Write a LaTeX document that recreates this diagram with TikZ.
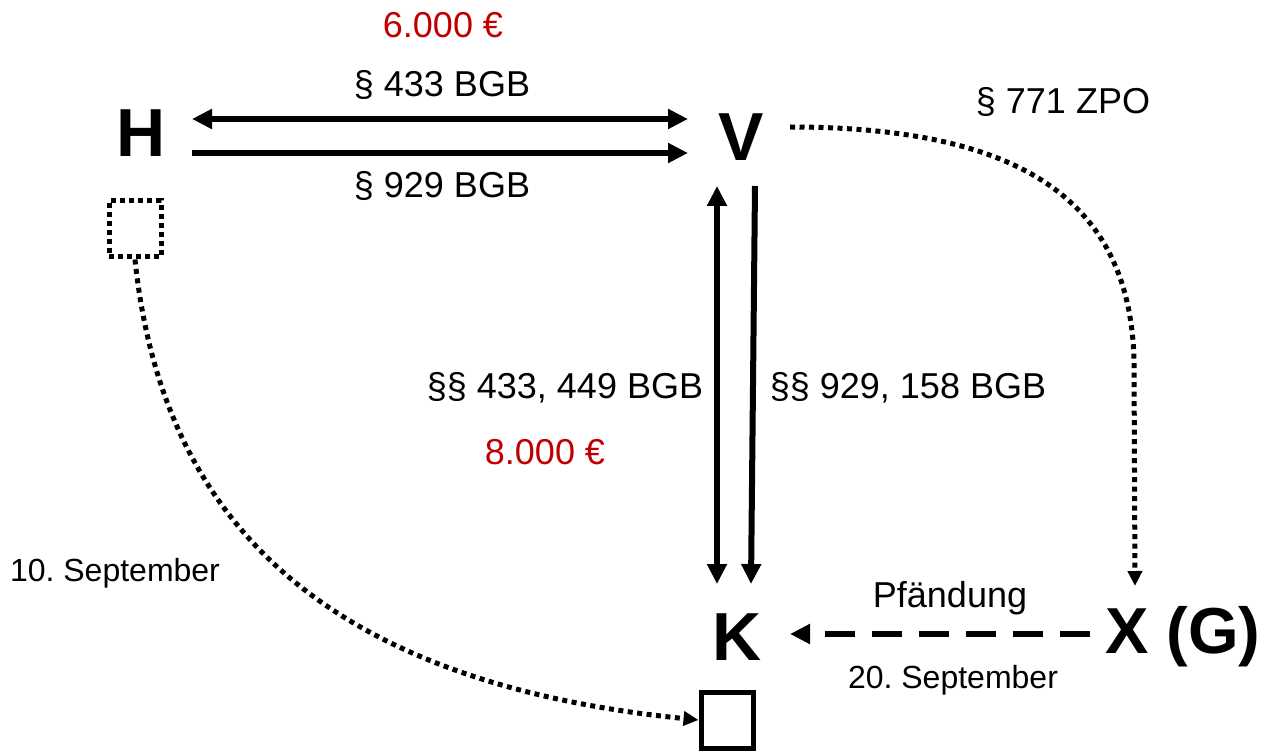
\documentclass[tikz,border=0pt]{standalone}
\usepackage{fontspec}
\setmainfont{Liberation Sans}
\usetikzlibrary{arrows.meta}
\definecolor{myred}{HTML}{C00000}
\frenchspacing
\tikzset{
  x=1pt,y=-1pt,
  big/.style={font=\fontsize{68}{80}\selectfont\bfseries, inner sep=0pt},
  lbl/.style={font=\fontsize{36}{42}\selectfont, inner sep=0pt},
  small/.style={font=\fontsize{32}{38}\selectfont, inner sep=0pt},
  red lbl/.style={lbl, text=myred},
  tip/.style={-{Triangle[length=20pt,width=19pt]}},
  bothtips/.style={{Triangle[length=20pt,width=19pt]}-{Triangle[length=20pt,width=19pt]}},
  thickline/.style={line width=6pt},
  dotline/.style={line width=5pt, dash pattern=on 5pt off 4.5pt},
  box/.style={minimum width=52pt, minimum height=56pt, inner sep=0pt},
}
\begin{document}
\begin{tikzpicture}
\useasboundingbox (0,0) rectangle (1272,754);
% main nodes
\node[big] (H) at (141,133) {H};
\node[big] (V) at (741,137) {V};
\node[big] (K) at (737,637) {K};
\node[big, font=\fontsize{65}{76}\selectfont\bfseries] (X) at (1183,637) {X (G)};
% boxes
\node[box, draw, line width=5pt, dash pattern=on 5pt off 4pt] (sqH) at (135,229) {};
\node[box, draw, line width=5pt] (sqK) at (727,720) {};
% coordinates for arrow ends
\coordinate (a1l) at (192,119);
\coordinate (a1r) at (688,119);
\coordinate (a2l) at (192,153);
\coordinate (a2r) at (688,153);
\coordinate (b1t) at (717,186);
\coordinate (b1b) at (717,584);
\coordinate (b2t) at (755,186);
\coordinate (b2b) at (751,584);
\coordinate (vs) at (790,127);
\coordinate (vm) at (1134,360);
\coordinate (xe) at (1135,586);
\coordinate (ds) at (1090,634);
\coordinate (de) at (790,634);
% arrows
\draw[thickline, bothtips] (a1l) -- (a1r);
\draw[thickline, tip] (a2l) -- (a2r);
\draw[thickline, bothtips] (b1t) -- (b1b);
\draw[thickline, tip] (b2t) -- (b2b);
\draw[dotline, -{Triangle[length=15pt,width=14pt]}] (vs) .. controls (1020,127) and (1130,200) .. (vm) -- (xe);
\draw[dotline, -{Triangle[length=15pt,width=14pt]}] (sqH.south) .. controls (160,500) and (300,680) .. (sqK.west);
\draw[line width=6pt, dash pattern=on 30pt off 17pt, tip] (ds) -- (de);
% labels
\node[red lbl] (l6000) at (443,25) {6.000 €};
\node[lbl] (l433) at (442,85) {§ 433 BGB};
\node[lbl] (l929) at (442,186) {§ 929 BGB};
\node[lbl] (l771) at (1063,102) {§ 771 ZPO};
\node[lbl] (l433b) at (565,388) {§§ 433, 449 BGB};
\node[red lbl] (l8000) at (545,452) {8.000 €};
\node[lbl] (l929b) at (908,388) {§§ 929, 158 BGB};
\node[lbl] (lpf) at (950,598) {Pfändung};
\node[small] (l20) at (953,680) {20. September};
\node[small] (l10) at (115,573) {10. September};
\end{tikzpicture}
\end{document}
